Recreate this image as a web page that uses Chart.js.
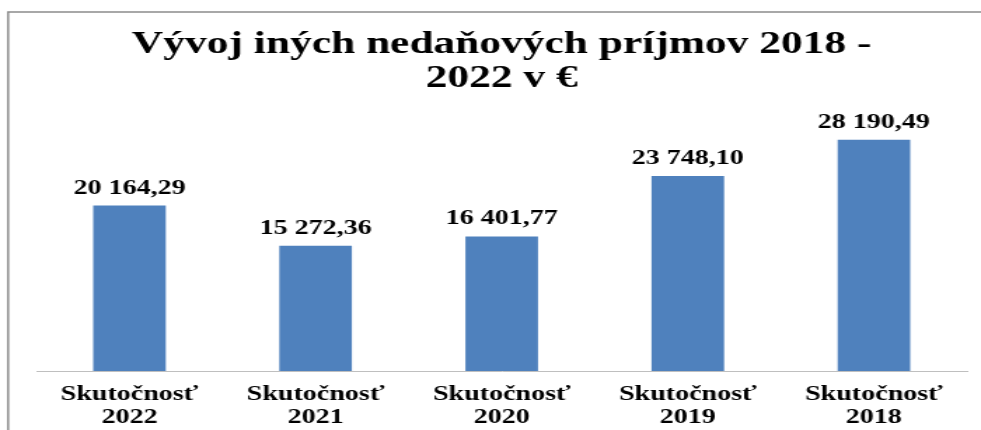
<!DOCTYPE html>
<html>
<head>
<meta charset="utf-8">
<script src="https://cdn.jsdelivr.net/npm/chart.js@4"></script>
<style>
  html, body { margin: 0; padding: 0; background: #fff; overflow: hidden; }
  /* the original picture is stretched sideways, so stretch the canvas too */
  #wrap { width: 700px; height: 430px; transform: scaleX(1.4014); transform-origin: 0 0; }
</style>
</head>
<body>
<div id="wrap"><canvas id="myChart" width="700" height="430" style="width:700px;height:430px"></canvas></div>
<script>
const titleLines = ['Vývoj iných nedaňových príjmov 2018 -', '2022 v €'];
const labelWord = 'Skutočnosť';
const years = ['2022', '2021', '2020', '2019', '2018'];
const values = [20164.29, 15272.36, 16401.77, 23748.10, 28190.49];

const labels = years.map(y => [labelWord, y]);
const serif = '"Liberation Serif", "Times New Roman", Times, serif';

function fmt(v) {
  let parts = v.toFixed(2).split('.');
  let int = parts[0].replace(/\B(?=(\d{3})+(?!\d))/g, ' ');
  return int + ',' + parts[1];
}

// frame line at top and left
const framePlugin = {
  id: 'frame',
  beforeDraw(chart) {
    const ctx = chart.ctx;
    ctx.save();
    ctx.strokeStyle = '#8c8c8c';
    ctx.lineWidth = 1.5;
    ctx.beginPath();
    ctx.moveTo(chart.width, 12);
    ctx.lineTo(5.8, 12);
    ctx.lineTo(5.8, chart.height);
    ctx.stroke();
    ctx.restore();
  }
};

// value labels above the bars
const valuePlugin = {
  id: 'values',
  afterDatasetsDraw(chart) {
    const ctx = chart.ctx;
    const meta = chart.getDatasetMeta(0);
    ctx.save();
    ctx.font = 'bold 20px ' + serif;
    ctx.fillStyle = '#000';
    ctx.textAlign = 'center';
    ctx.textBaseline = 'alphabetic';
    meta.data.forEach((bar, i) => {
      ctx.fillText(fmt(values[i]), bar.x, bar.y - 12);
    });
    ctx.restore();
  }
};

const chartdata = {
  labels: labels,
  datasets: [{
    data: values,
    backgroundColor: '#4f81bd',
    borderWidth: 0,
    barPercentage: 0.39,
    categoryPercentage: 1
  }]
};

const config = {
  type: 'bar',
  data: chartdata,
  options: {
    responsive: false,
    animation: false,
    devicePixelRatio: 1,
    layout: { padding: { left: 26, right: 10, top: 0, bottom: -11 } },
    plugins: {
      legend: { display: false },
      tooltip: { enabled: false },
      title: {
        display: true,
        text: titleLines,
        color: '#000',
        font: { family: serif, size: 31, weight: 'bold', lineHeight: 1.1 },
        padding: { top: 28, bottom: 4 }
      }
    },
    scales: {
      x: {
        grid: { display: false, drawTicks: false },
        border: { display: true, color: '#bfbfbf', width: 1 },
        ticks: {
          color: '#000',
          padding: 12,
          maxRotation: 0,
          autoSkip: false,
          font: { family: serif, size: 20, weight: 'bold', lineHeight: 1.15 }
        }
      },
      y: {
        display: false,
        min: 0,
        max: 33000
      }
    }
  },
  plugins: [framePlugin, valuePlugin]
};

var myChart = new Chart(document.getElementById('myChart'), config);
</script>
</body>
</html>
